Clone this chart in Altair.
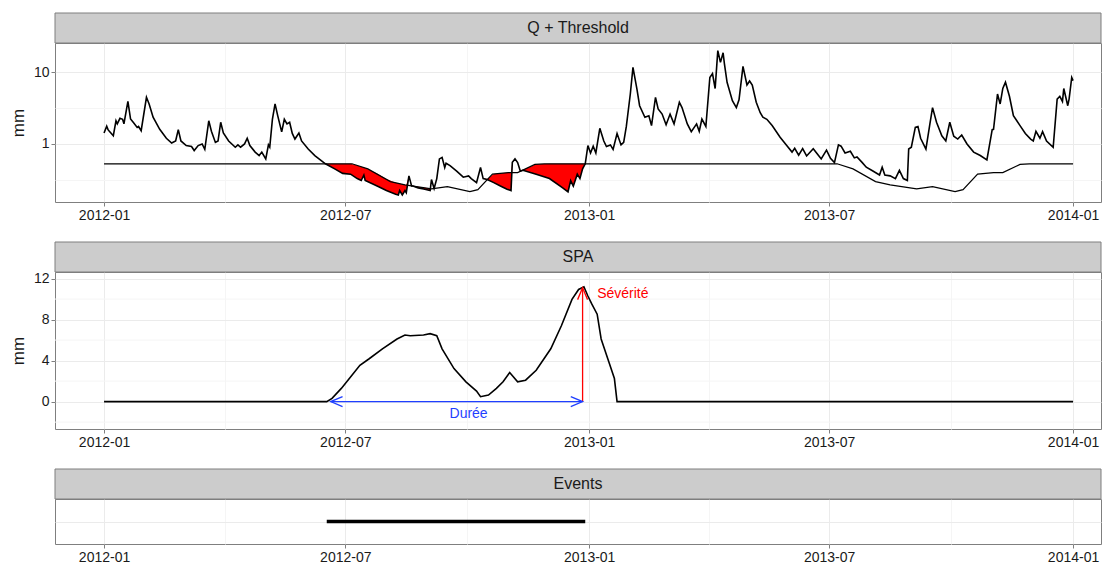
import altair as alt
import pandas as pd
import numpy as np

# ---------------- data (days since 2012-01-01) ----------------
q_day = [0, 2, 3, 4, 7, 9, 10, 12, 14, 15, 18, 20, 22, 25, 26, 28, 32, 34, 37, 42,
         47, 51, 54, 56, 58, 62, 66, 68, 71, 74, 76, 79, 81, 84, 86, 88, 90, 94, 99, 101,
         103, 106, 108, 110, 114, 117, 119, 122, 124, 125, 127, 129, 131, 134, 136, 138, 140, 142, 144, 147,
         149, 154, 159, 167, 174, 180, 186, 191, 194, 196, 197, 206, 213, 220, 222, 223, 225, 227, 228, 230,
         232, 233, 237, 242, 246, 247, 249, 251, 253, 255, 257, 258, 261, 266, 271, 275, 277, 281, 284, 286,
         289, 294, 299, 304, 307, 308, 310, 312, 314, 316, 326, 336, 346, 350, 352, 354, 357, 359, 361, 363,
         365, 367, 369, 371, 374, 377, 379, 382, 384, 387, 390, 392, 394, 397, 399, 402, 404, 408, 411, 413,
         416, 418, 421, 424, 427, 430, 434, 436, 440, 443, 447, 449, 451, 454, 457, 459, 461, 463, 465, 467,
         468, 470, 474, 477, 479, 482, 485, 487, 489, 492, 495, 497, 500, 504, 510, 515, 519, 521, 524, 527,
         530, 535, 539, 541, 545, 548, 551, 554, 556, 559, 563, 566, 568, 572, 575, 580, 585, 587, 589, 593,
         597, 600, 603, 606, 607, 609, 612, 614, 616, 620, 623, 625, 628, 632, 635, 638, 641, 644, 647, 651,
         656, 661, 666, 670, 671, 674, 676, 678, 680, 683, 686, 691, 695, 699, 701, 703, 706, 708, 711, 716,
         719, 721, 723, 724, 727, 728, 730, 731]
q_val = [1.42, 1.76, 1.58, 1.5, 1.30, 2.1, 1.9, 2.27, 2.2, 1.9, 3.9, 2.22, 2.0, 1.7, 1.75, 1.53, 4.45, 3.6, 2.35, 1.6,
         1.2, 1.03, 1.1, 1.58, 1.1, 0.95, 0.92, 0.81, 0.95, 1.0, 0.84, 2.1, 1.5, 1.05, 1.1, 2.0, 1.42, 1.1, 0.9, 0.97,
         0.9, 1.0, 1.2, 0.95, 0.77, 0.69, 0.77, 0.62, 0.97, 0.9, 2.2, 3.6, 2.47, 1.47, 2.2, 1.9, 2.0, 1.4, 1.17, 1.42,
         1.1, 0.85, 0.69, 0.53, 0.45, 0.39, 0.38, 0.33, 0.31, 0.37, 0.31, 0.26, 0.225, 0.20, 0.195, 0.225, 0.195, 0.225, 0.21, 0.36,
         0.26, 0.26, 0.245, 0.235, 0.225, 0.32, 0.24, 0.33, 0.62, 0.65, 0.47, 0.54, 0.5, 0.42, 0.345, 0.36, 0.33, 0.29, 0.47, 0.33,
         0.32, 0.29, 0.26, 0.235, 0.225, 0.556, 0.62, 0.55, 0.42, 0.43, 0.38, 0.33, 0.245, 0.215, 0.31, 0.26, 0.38, 0.33, 0.45, 0.53,
         0.95, 0.75, 0.93, 0.75, 1.65, 1.1, 0.92, 0.97, 0.84, 1.4, 0.97, 1.05, 1.75, 4.95, 11.6, 5.8, 3.4, 2.35, 2.47, 1.8,
         4.45, 3.06, 2.6, 1.85, 2.6, 1.9, 3.8, 3.2, 1.9, 1.48, 1.9, 1.5, 2.22, 1.75, 8.4, 9.5, 5.9, 19.8, 13.6, 18.5,
         13.0, 7.2, 4.0, 3.2, 4.1, 12.0, 6.6, 7.5, 6.6, 3.8, 2.72, 2.35, 2.2, 1.8, 1.24, 0.95, 0.77, 0.87, 0.7, 0.86,
         0.68, 0.86, 0.69, 0.62, 0.82, 0.63, 0.55, 0.97, 0.93, 0.75, 0.79, 0.64, 0.66, 0.55, 0.475, 0.42, 0.37, 0.475, 0.37, 0.36,
         0.33, 0.43, 0.33, 0.31, 0.85, 0.9, 1.7, 1.75, 1.2, 0.85, 1.9, 3.2, 2.0, 1.3, 1.1, 2.0, 1.28, 1.17, 1.33, 1.0,
         0.77, 0.69, 0.6, 1.58, 1.6, 4.95, 3.6, 5.9, 7.2, 4.6, 2.47, 1.8, 1.4, 1.17, 1.1, 1.5, 1.2, 1.48, 1.1, 0.9,
         4.2, 4.6, 3.9, 5.9, 3.4, 4.2, 8.4, 7.6]

thr_day = [0, 187, 199, 216, 227, 247, 259, 276, 282, 293, 305, 312, 325, 332,
           553, 565, 582, 593, 613, 625, 642, 648, 659, 671, 678, 691, 698, 731]
thr_val = [0.53, 0.53, 0.45, 0.30, 0.27, 0.237, 0.255, 0.218, 0.232, 0.38, 0.40, 0.40, 0.52, 0.53,
           0.53, 0.45, 0.30, 0.27, 0.237, 0.255, 0.218, 0.232, 0.38, 0.40, 0.40, 0.52, 0.53, 0.53]

spa_day = [0, 168, 172, 179, 187, 193, 200, 210, 221, 227, 231, 241, 246, 251, 255, 264, 273, 281, 284, 290,
           296, 301, 306, 312, 318, 326, 337, 345, 353, 358, 362, 365, 368, 372, 375, 380, 385, 387, 731]
spa_val = [0, 0, 0.32, 1.29, 2.57, 3.54, 4.18, 5.15, 6.11, 6.5, 6.43, 6.5, 6.63, 6.43, 5.15, 3.22, 1.93, 1.03, 0.48, 0.64,
           1.29, 1.93, 2.83, 1.93, 2.09, 3.06, 5.15, 7.4, 9.97, 10.94, 11.2, 10.3, 9.5, 8.53, 6.11, 4.18, 2.25, 0, 0]

sev_day, sev_top = 361, 11.1
sev_label_day, sev_label_val = 372, 10.5
dur_start, dur_end = 171, 361
dur_label_day, dur_label_val = 275, -1.22
event_start, event_end = 168, 363

strip_labels = ["Q + Threshold", "SPA", "Events"]
x_ticks = ["2012-01-01", "2012-04-01", "2012-07-01", "2012-10-01", "2013-01-01",
           "2013-04-01", "2013-07-01", "2013-10-01", "2014-01-01"]
q_ticks = [0.316, 1, 3.16, 10]
spa_major = [0, 4, 8, 12]
spa_minor = [-2, 2, 6, 10]

# ---------------- helpers ----------------
BASE = pd.Timestamp("2012-01-01")


def ms(d):
    return int((BASE + pd.Timedelta(days=float(d))).value // 10**6)


W = 1046
FONT = "Liberation Sans"
x_dom = [ms(-37), ms(-37 + W / 1.3256)]
x_vals = [int(pd.Timestamp(s).value // 10**6) for s in x_ticks]
MAJ_X = "utcmonth(datum.value) == 0 || utcmonth(datum.value) == 6"
MAJ_C = "#EBEBEB"
MIN_C = "#F5F5F5"


def xaxis():
    return alt.Axis(
        values=x_vals, title=None, labelOverlap=False,
        labelExpr=f"({MAJ_X}) ? utcFormat(datum.value, '%Y-%m') : ''",
        tickOpacity={"condition": {"test": MAJ_X, "value": 1}, "value": 0},
        gridColor={"condition": {"test": MAJ_X, "value": MAJ_C}, "value": MIN_C},
    )


def X(field):
    return alt.X(field, type="temporal", scale=alt.Scale(type="utc", domain=x_dom), axis=xaxis())


def strip(label):
    d = pd.DataFrame({"s": [label]})
    r = alt.Chart(d).mark_rect(fill="#CCCCCC", stroke="#7F7F7F", strokeWidth=1).encode(
        x=alt.value(0), x2=alt.value(W), y=alt.value(-30), y2=alt.value(0))
    t = alt.Chart(d).mark_text(font=FONT, fontSize=16, color="#1A1A1A", align="center",
                               baseline="middle").encode(
        x=alt.value(W / 2), y=alt.value(-15), text="s:N")
    return [r, t]


# ---------------- panel 1 ----------------
qdf = pd.DataFrame({"t": [ms(d) for d in q_day], "q": q_val})
qdf["thr"] = np.interp(q_day, thr_day, thr_val)
qdf["top"] = np.maximum(qdf["q"], qdf["thr"])
thrdf = pd.DataFrame({"t": [ms(d) for d in thr_day], "thr": thr_val})

q_major = "datum.value == 1 || datum.value == 10"
yq = alt.Y("q:Q", scale=alt.Scale(type="log", domain=[0.156, 25.3], nice=False),
           axis=alt.Axis(values=q_ticks, title="mm", titlePadding=6, labelOverlap=False,
                         labelExpr="datum.value == 1 ? '1' : (datum.value == 10 ? '10' : '')",
                         tickOpacity={"condition": {"test": q_major, "value": 1}, "value": 0},
                         gridColor={"condition": {"test": q_major, "value": MAJ_C}, "value": MIN_C}))

area = alt.Chart(qdf).mark_area(color="#FF0000", opacity=1).encode(x=X("t"), y=yq, y2="top:Q")
thr_line = alt.Chart(thrdf).mark_line(color="black", strokeWidth=1.2).encode(x="t:T", y="thr:Q")
q_line = alt.Chart(qdf).mark_line(color="black", strokeWidth=1.6).encode(x="t:T", y="q:Q")

p1 = alt.layer(*strip(strip_labels[0]), area, thr_line, q_line).properties(width=W, height=159)

# ---------------- panel 2 ----------------
spadf = pd.DataFrame({"t": [ms(d) for d in spa_day], "v": spa_val})
s_scale = alt.Scale(domain=[-2.67, 12.64], nice=False, zero=False)
s_axis = alt.Axis(values=spa_major, title="mm", titlePadding=6, labelOverlap=False,
                  format="d", gridColor=MAJ_C)

minor_grid = alt.Chart(pd.DataFrame({"g": spa_minor})).mark_rule(color=MIN_C, strokeWidth=1).encode(
    y=alt.Y("g:Q", scale=s_scale, axis=s_axis))
spa_line = alt.Chart(spadf).mark_line(color="black", strokeWidth=1.6).encode(
    x=X("t"), y=alt.Y("v:Q", scale=s_scale, axis=s_axis))

sevdf = pd.DataFrame({"t": [ms(sev_day)], "v0": [0.0], "v1": [sev_top]})
sev_rule = alt.Chart(sevdf).mark_rule(color="#FF0000", strokeWidth=1.3).encode(x="t:T", y="v0:Q", y2="v1:Q")
sev_head = alt.Chart(sevdf).mark_point(shape="M -0.42 1 L 0 0 L 0.42 1", filled=False, color="#FF0000",
                                       strokeWidth=1.3, size=560, opacity=1).encode(x="t:T", y="v1:Q")
sev_txt = alt.Chart(pd.DataFrame({"t": [ms(sev_label_day)], "v": [sev_label_val], "s": ["Sévérité"]})).mark_text(
    font=FONT, fontSize=14, color="#FF0000", align="left", baseline="middle").encode(x="t:T", y="v:Q", text="s:N")

durdf = pd.DataFrame({"t1": [ms(dur_start)], "t2": [ms(dur_end)], "v": [0.0]})
dur_rule = alt.Chart(durdf).mark_rule(color="#1F3FFF", strokeWidth=1.3).encode(x="t1:T", x2="t2:T", y="v:Q")
dur_head_l = alt.Chart(durdf).mark_point(shape="M 1 -0.42 L 0 0 L 1 0.42", filled=False, color="#1F3FFF",
                                         strokeWidth=1.3, size=560, opacity=1).encode(x="t1:T", y="v:Q")
dur_head_r = alt.Chart(durdf).mark_point(shape="M -1 -0.42 L 0 0 L -1 0.42", filled=False, color="#1F3FFF",
                                         strokeWidth=1.3, size=560, opacity=1).encode(x="t2:T", y="v:Q")
dur_txt = alt.Chart(pd.DataFrame({"t": [ms(dur_label_day)], "v": [dur_label_val], "s": ["Durée"]})).mark_text(
    font=FONT, fontSize=14, color="#1F3FFF", align="center", baseline="middle").encode(x="t:T", y="v:Q", text="s:N")

p2 = alt.layer(*strip(strip_labels[1]), minor_grid, spa_line, sev_rule, sev_head, sev_txt,
               dur_rule, dur_head_l, dur_head_r, dur_txt).properties(width=W, height=157)

# ---------------- panel 3 ----------------
evdf = pd.DataFrame({"t1": [ms(event_start)], "t2": [ms(event_end)], "e": [1.0]})
ye = alt.Y("e:Q", scale=alt.Scale(domain=[0, 2], nice=False),
           axis=alt.Axis(values=[1], title=None, labels=False, ticks=False, gridColor=MAJ_C))
ev = alt.Chart(evdf).mark_rule(color="black", strokeWidth=3.5).encode(x=X("t1"), x2="t2:T", y=ye)
p3 = alt.layer(*strip(strip_labels[2]), ev).properties(width=W, height=45)

chart = alt.vconcat(p1, p2, p3, spacing=18).properties(
    padding={"left": 0, "top": 4, "right": 0, "bottom": 0}
).configure_view(stroke="#7F7F7F", strokeWidth=1).configure_axis(
    domain=False, labelFont=FONT, labelFontSize=14, labelColor="#1A1A1A",
    tickColor="#7F7F7F", tickSize=4, labelPadding=2,
    titleFont=FONT, titleFontSize=17, titleFontWeight="normal", titleColor="#1A1A1A",
)

chart.save("out.html", embed_options={"renderer": "svg", "actions": False})
